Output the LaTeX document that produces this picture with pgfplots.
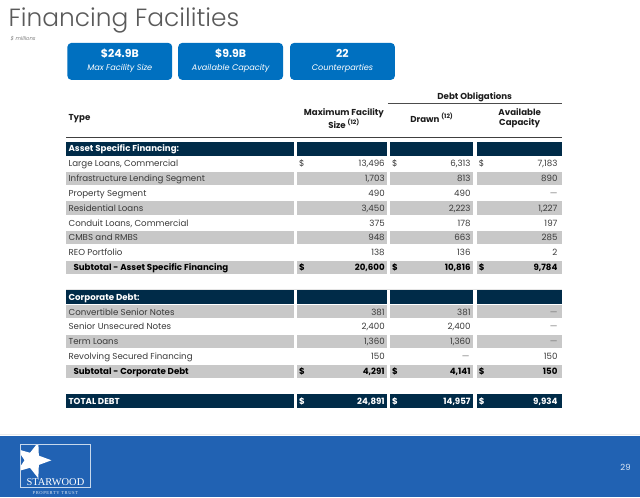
\documentclass[border=0pt]{standalone}
\usepackage{pgfplots}
\pgfplotsset{compat=1.18}
\usepackage{pgfplotstable}
\usepackage{fontspec}
\setmainfont{Poppins}
\newfontfamily\titlefont{Poppins Light}
\newfontfamily\logofont{Liberation Serif}
\usetikzlibrary{shapes.geometric}

\definecolor{navy}{RGB}{0,43,72}
\definecolor{bandgray}{RGB}{200,200,200}
\definecolor{boxblue}{RGB}{0,112,192}
\definecolor{footblue}{RGB}{33,98,179}
\definecolor{txt}{RGB}{58,58,58}
\definecolor{hdr}{RGB}{30,30,30}
\definecolor{titlegray}{RGB}{90,90,90}
\definecolor{dashgray}{RGB}{120,120,120}

\newcommand\fs{\fontsize{8.7}{10.5}\selectfont}

% row index k: centre y = 149 + 14.85 k (pixels from top)
\pgfplotstableread{
k v
1 13496
2 1703
3 490
4 3450
5 375
6 948
7 138
11 381
12 2400
13 1360
14 150
}\maxdata

\pgfplotstableread{
k v
1 6313
2 813
3 490
4 2223
5 178
6 663
7 136
11 381
12 2400
13 1360
}\drawndata

\pgfplotstableread{
k v
1 7183
2 890
4 1227
5 197
6 285
7 2
14 150
}\availdata

\pgfplotstableread{
k max drawn avail
8 20600 10816 9784
15 4291 4141 150
}\subdata

\pgfplotstableread{
k max drawn avail
17 24891 14957 9934
}\totaldata

\pgfplotstableread{
k label
1 {Large Loans, Commercial}
2 {Infrastructure Lending Segment}
3 {Property Segment}
4 {Residential Loans}
5 {Conduit Loans, Commercial}
6 {CMBS and RMBS}
7 {REO Portfolio}
11 {Convertible Senior Notes}
12 {Senior Unsecured Notes}
13 {Term Loans}
14 {Revolving Secured Financing}
}\labels

\pgfplotstableread{
k label
8 {Subtotal - Asset Specific Financing}
15 {Subtotal - Corporate Debt}
}\sublabels

\pgfplotstableread{
k label
0 {Asset Specific Financing:}
10 {Corporate Debt:}
17 {TOTAL DEBT}
}\heads

\pgfplotstableread{
x k
558 3
558 11
558 12
558 13
470 14
}\dashes

\newcommand\band[3]{%
\fill[#2] (axis cs:66,{149+14.85*#1-#3}) rectangle (axis cs:294,{149+14.85*#1+#3});
\fill[#2] (axis cs:297,{149+14.85*#1-#3}) rectangle (axis cs:387,{149+14.85*#1+#3});
\fill[#2] (axis cs:390,{149+14.85*#1-#3}) rectangle (axis cs:473,{149+14.85*#1+#3});
\fill[#2] (axis cs:477,{149+14.85*#1-#3}) rectangle (axis cs:562,{149+14.85*#1+#3});}

\pgfplotsset{
  cell/.style={only marks, mark=none, point meta=explicit,
    nodes near coords,
    nodes near coords style={anchor=base east, inner sep=0pt, font=\fs, text=txt,
      /pgf/number format/fixed, /pgf/number format/precision=0,
      /pgf/number format/1000 sep={,}, /pgf/number format/assume math mode=true}},
}

\begin{document}
\begin{tikzpicture}
\begin{axis}[scale only axis, width=640bp, height=498bp,
  xmin=0, xmax=640, ymin=0, ymax=498, y dir=reverse,
  hide axis, clip=false,
  /pgf/number format/.cd, fixed, precision=0, 1000 sep={,}, assume math mode=true]

\fill[white] (axis cs:0,0) rectangle (axis cs:640,498);

% title
\node[anchor=base west, inner sep=0pt, text=titlegray, font=\titlefont\fontsize{25}{27}\selectfont] at (axis cs:8,27) {Financing Facilities};
\node[anchor=west, inner sep=0pt, text=gray, font=\itshape\fontsize{5.3}{6}\selectfont] at (axis cs:10,39) {\$ millions};

% summary boxes
\fill[boxblue, rounded corners=4bp] (axis cs:67,43) rectangle (axis cs:172,80);
\fill[boxblue, rounded corners=4bp] (axis cs:178,43) rectangle (axis cs:283,80);
\fill[boxblue, rounded corners=4bp] (axis cs:290,43) rectangle (axis cs:395,80);
\node[text=white, font=\bfseries\fontsize{11}{12}\selectfont] at (axis cs:119.5,54) {\$24.9B};
\node[text=white, font=\bfseries\fontsize{11}{12}\selectfont] at (axis cs:230.5,54) {\$9.9B};
\node[text=white, font=\bfseries\fontsize{11}{12}\selectfont] at (axis cs:342.5,54) {22};
\node[text=white, font=\itshape\fontsize{8.2}{9}\selectfont] at (axis cs:119.5,68.5) {Max Facility Size};
\node[text=white, font=\itshape\fontsize{8.2}{9}\selectfont] at (axis cs:230.5,68.5) {Available Capacity};
\node[text=white, font=\itshape\fontsize{8.2}{9}\selectfont] at (axis cs:342.5,68.5) {Counterparties};

% header
\node[text=hdr, font=\bfseries\fs] at (axis cs:475,97) {Debt Obligations};
\draw[line width=1bp, black!70] (axis cs:388,104) -- (axis cs:562,104);
\node[anchor=west, inner sep=0pt, text=hdr, font=\bfseries\fs] at (axis cs:68,118.5) {Type};
\node[align=center, text=hdr, font=\bfseries\fs, inner sep=0pt] at (axis cs:344,118.5) {Maximum Facility\\Size \textsuperscript{(12)}};
\node[text=hdr, font=\bfseries\fs, inner sep=0pt] at (axis cs:432,118) {Drawn \textsuperscript{(12)}};
\node[align=center, text=hdr, font=\bfseries\fs, inner sep=0pt] at (axis cs:520,118.5) {Available\\Capacity};
\draw[line width=1.4bp, black!75] (axis cs:66,137.5) -- (axis cs:562,137.5);

% bands
\band{0}{navy}{7.2}
\band{10}{navy}{7.2}
\band{17}{navy}{7.2}
\band{2}{bandgray}{6.6}
\band{4}{bandgray}{6.6}
\band{6}{bandgray}{6.6}
\band{8}{bandgray}{6.6}
\band{11}{bandgray}{6.6}
\band{13}{bandgray}{6.6}
\band{15}{bandgray}{6.6}
\draw[black!10, line width=0.6bp] (axis cs:66,289.5) -- (axis cs:562,289.5);

% row labels
\addplot[cell, point meta=explicit symbolic, nodes near coords style={anchor=base west}]
  table[x expr=68, y expr={149+14.85*\thisrow{k}+3.2}, meta=label] {\labels};
\addplot[cell, point meta=explicit symbolic, nodes near coords style={anchor=base west, text=black, font=\bfseries\fs}]
  table[x expr=73, y expr={149+14.85*\thisrow{k}+3.2}, meta=label] {\sublabels};
\addplot[cell, point meta=explicit symbolic, nodes near coords style={anchor=base west, text=white, font=\bfseries\fs}]
  table[x expr=68, y expr={149+14.85*\thisrow{k}+3.2}, meta=label] {\heads};

% values
\addplot[cell] table[x expr=385, y expr={149+14.85*\thisrow{k}+3.2}, meta=v] {\maxdata};
\addplot[cell] table[x expr=471, y expr={149+14.85*\thisrow{k}+3.2}, meta=v] {\drawndata};
\addplot[cell] table[x expr=558, y expr={149+14.85*\thisrow{k}+3.2}, meta=v] {\availdata};

\addplot[cell, nodes near coords style={text=black, font=\bfseries\fs}] table[x expr=385, y expr={149+14.85*\thisrow{k}+3.2}, meta=max] {\subdata};
\addplot[cell, nodes near coords style={text=black, font=\bfseries\fs}] table[x expr=471, y expr={149+14.85*\thisrow{k}+3.2}, meta=drawn] {\subdata};
\addplot[cell, nodes near coords style={text=black, font=\bfseries\fs}] table[x expr=558, y expr={149+14.85*\thisrow{k}+3.2}, meta=avail] {\subdata};

\addplot[cell, nodes near coords style={text=white, font=\bfseries\fs}] table[x expr=385, y expr={149+14.85*\thisrow{k}+3.2}, meta=max] {\totaldata};
\addplot[cell, nodes near coords style={text=white, font=\bfseries\fs}] table[x expr=471, y expr={149+14.85*\thisrow{k}+3.2}, meta=drawn] {\totaldata};
\addplot[cell, nodes near coords style={text=white, font=\bfseries\fs}] table[x expr=558, y expr={149+14.85*\thisrow{k}+3.2}, meta=avail] {\totaldata};

% dashes
\addplot[cell, nodes near coords={\textemdash}, nodes near coords style={text=dashgray}]
  table[x=x, y expr={149+14.85*\thisrow{k}+3.2}, meta=x] {\dashes};

% dollar signs
\node[anchor=base west, inner sep=0pt, text=txt, font=\fs] at (axis cs:299,{149+14.85+3.2}) {\$};
\node[anchor=base west, inner sep=0pt, text=txt, font=\fs] at (axis cs:392,{149+14.85+3.2}) {\$};
\node[anchor=base west, inner sep=0pt, text=txt, font=\fs] at (axis cs:479,{149+14.85+3.2}) {\$};
\pgfplotsinvokeforeach{8,15}{
\node[anchor=base west, inner sep=0pt, text=black, font=\bfseries\fs] at (axis cs:299,{149+14.85*#1+3.2}) {\$};
\node[anchor=base west, inner sep=0pt, text=black, font=\bfseries\fs] at (axis cs:392,{149+14.85*#1+3.2}) {\$};
\node[anchor=base west, inner sep=0pt, text=black, font=\bfseries\fs] at (axis cs:479,{149+14.85*#1+3.2}) {\$};
}
\node[anchor=base west, inner sep=0pt, text=white, font=\bfseries\fs] at (axis cs:299,{149+14.85*17+3.2}) {\$};
\node[anchor=base west, inner sep=0pt, text=white, font=\bfseries\fs] at (axis cs:392,{149+14.85*17+3.2}) {\$};
\node[anchor=base west, inner sep=0pt, text=white, font=\bfseries\fs] at (axis cs:479,{149+14.85*17+3.2}) {\$};

% footer
\draw[black!8, line width=1bp] (axis cs:0,435) -- (axis cs:640,435);
\fill[footblue] (axis cs:0,437) rectangle (axis cs:640,498);
\begin{scope}
\clip (axis cs:20,445) rectangle (axis cs:90,488);
\node[star, star points=5, star point ratio=2.4, fill=white, minimum size=38bp, inner sep=0pt, rotate=-18] at (axis cs:32,461) {};
\end{scope}
\draw[white!75!footblue, line width=0.6bp] (axis cs:20,445) rectangle (axis cs:90,488);
\node[text=white, font=\logofont\fontsize{10.5}{11}\selectfont, inner sep=0pt] at (axis cs:55,482.5) {STARWOOD};
\node[text=white!85!footblue, font=\logofont\fontsize{4.6}{5}\selectfont\addfontfeature{LetterSpace=12}, inner sep=0pt] at (axis cs:55,494) {PROPERTY TRUST};
\node[text=white!85!footblue, font=\fontsize{8.5}{9}\selectfont] at (axis cs:626,468.5) {29};

\end{axis}
\end{tikzpicture}
\end{document}
